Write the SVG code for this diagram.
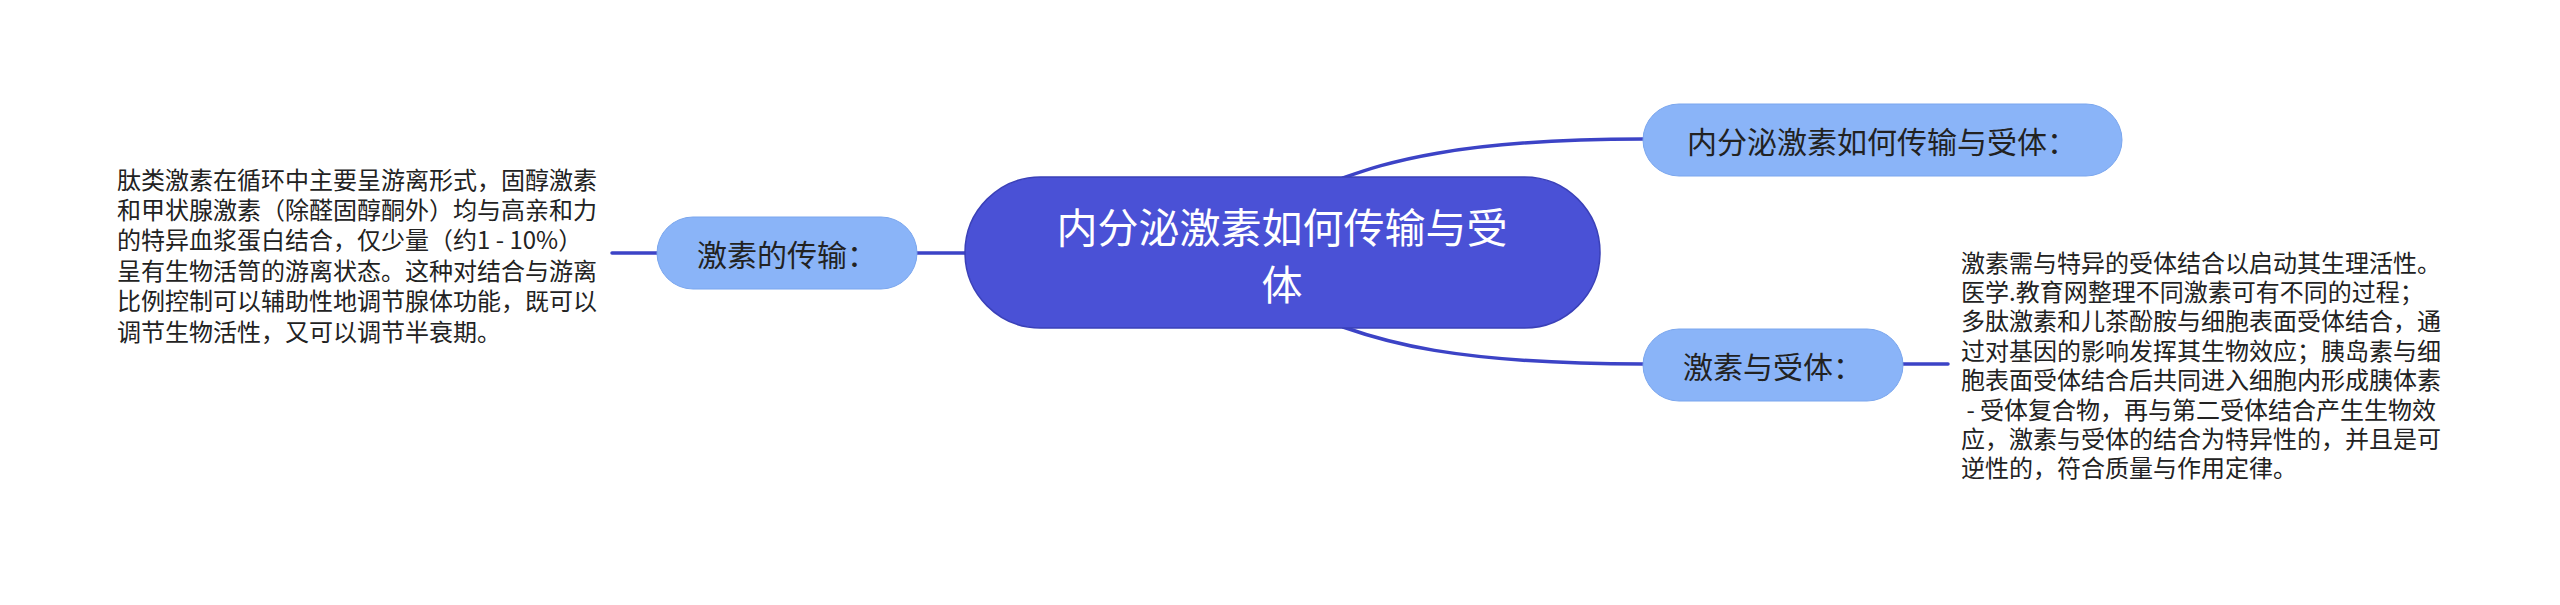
<svg xmlns="http://www.w3.org/2000/svg" width="2560" height="605" viewBox="0 0 2560 605">
<style>
text{font-family:"Noto Sans CJK SC","Noto Sans",sans-serif;dominant-baseline:central}
.edge{fill:none;stroke:#3c43c6;stroke-width:3.5;stroke-linecap:round}
.sub{fill:#8ab4f8;stroke:#7aa6ee;stroke-width:1}
.subt{font-size:30px;fill:#222;text-anchor:middle}
.body{font-size:24px;fill:#222;white-space:pre}
.root{fill:#4a51d6;stroke:#3a40b8;stroke-width:1.5}
.roott{font-size:41px;fill:#fff;text-anchor:middle}
</style>
<rect width="2560" height="605" fill="#fff"/>
<g id="connectors">
<path class="edge" d="M965,253 L917,253"/>
<path class="edge" d="M657,253 L612,253"/>
<path class="edge" d="M1343,178 C1380,165 1450,139 1643,139"/>
<path class="edge" d="M1343,327 C1380,340 1450,364 1643,364"/>
<path class="edge" d="M1903,364 L1948,364"/>
</g>
<g id="root">
<rect class="root" x="965" y="177" width="635" height="151" rx="75.5"/>
<text class="roott" x="1282" y="225">内分泌激素如何传输与受</text>
<text class="roott" x="1282" y="282">体</text>
</g>
<g id="node-transport">
<rect class="sub" x="657" y="217" width="260" height="72" rx="36"/>
<text class="subt" x="787" y="253">激素的传输：</text>
</g>
<g id="node-title">
<rect class="sub" x="1643" y="104" width="479" height="72" rx="36"/>
<text class="subt" x="1882" y="140">内分泌激素如何传输与受体：</text>
</g>
<g id="node-receptor">
<rect class="sub" x="1643" y="329" width="260" height="72" rx="36"/>
<text class="subt" x="1773" y="365">激素与受体：</text>
</g>
<g id="text-transport">
<text class="body" x="117" y="178">肽类激素在循环中主要呈游离形式，固醇激素</text>
<text class="body" x="117" y="208.4">和甲状腺激素（除醛固醇酮外）均与高亲和力</text>
<text class="body" x="117" y="238.8">的特异血浆蛋白结合，仅少量（约1 - 10%）</text>
<text class="body" x="117" y="269.2">呈有生物活笥的游离状态。这种对结合与游离</text>
<text class="body" x="117" y="299.6">比例控制可以辅助性地调节腺体功能，既可以</text>
<text class="body" x="117" y="330">调节生物活性，又可以调节半衰期。</text>
</g>
<g id="text-receptor">
<text class="body" x="1961" y="261">激素需与特异的受体结合以启动其生理活性。</text>
<text class="body" x="1961" y="290.4">医学.教育网整理不同激素可有不同的过程；</text>
<text class="body" x="1961" y="319.8">多肽激素和儿茶酚胺与细胞表面受体结合，通</text>
<text class="body" x="1961" y="349.2">过对基因的影响发挥其生物效应；胰岛素与细</text>
<text class="body" x="1961" y="378.6">胞表面受体结合后共同进入细胞内形成胰体素</text>
<text class="body" x="1961" y="408"> - 受体复合物，再与第二受体结合产生生物效</text>
<text class="body" x="1961" y="437.4">应，激素与受体的结合为特异性的，并且是可</text>
<text class="body" x="1961" y="466.8">逆性的，符合质量与作用定律。</text>
</g>
</svg>
